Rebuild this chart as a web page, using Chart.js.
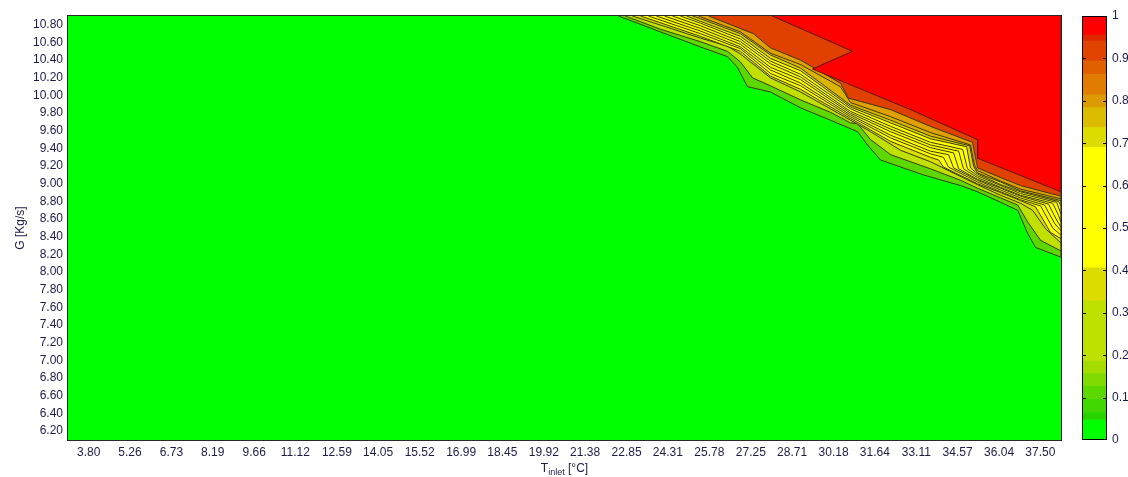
<!DOCTYPE html>
<html>
<head>
<meta charset="utf-8">
<script src="https://cdn.jsdelivr.net/npm/chart.js@4.4.1/dist/chart.umd.min.js"></script>
<style>
  html, body { margin: 0; padding: 0; background: #ffffff; }
  #wrap { position: relative; width: 1128px; height: 477px; }
  #mainCanvas { position: absolute; left: 0; top: 0; }
  #barCanvas { position: absolute; left: 1070px; top: 0; }
</style>
</head>
<body>
<div id="wrap">
  <canvas id="mainCanvas" width="1128" height="477"></canvas>
  <canvas id="barCanvas" width="58" height="477"></canvas>
</div>
<script>
// Axis tick labels
const xTickLabels = ['3.80', '5.26', '6.73', '8.19', '9.66', '11.12', '12.59', '14.05', '15.52', '16.99', '18.45', '19.92',
                     '21.38', '22.85', '24.31', '25.78', '27.25', '28.71', '30.18', '31.64', '33.11', '34.57', '36.04', '37.50'];
const yTickLabels = ['6.20', '6.40', '6.60', '6.80', '7.00', '7.20', '7.40', '7.60', '7.80', '8.00', '8.20', '8.40',
                     '8.60', '8.80', '9.00', '9.20', '9.40', '9.60', '9.80', '10.00', '10.20', '10.40', '10.60', '10.80'];
const X_MIN = 3.067, X_MAX = 38.233;
const Y_MIN = 6.10, Y_MAX = 10.90;

// Contour lines [T, G]; region above/right of each line is >= level
const lvl005 = [[22.56,10.90],[24.05,10.72],[25.46,10.55],[26.42,10.44],[26.77,10.32],[27.13,10.10],[27.94,10.04],[29.01,9.86],[30.07,9.72],[31.03,9.59],[31.38,9.44],[31.84,9.27],[33.37,9.10],[34.68,8.98],[35.28,8.91],[36.10,8.79],[36.70,8.70],[37.05,8.44],[37.33,8.28],[38.23,8.17]];
const lvl015 = [[22.80,10.90],[24.05,10.75],[25.46,10.61],[26.42,10.50],[26.88,10.38],[27.31,10.20],[27.94,10.11],[29.01,9.95],[30.07,9.81],[30.78,9.69],[31.03,9.68],[31.49,9.50],[32.20,9.33],[33.61,9.17],[34.68,9.04],[35.28,8.95],[36.10,8.84],[36.70,8.76],[37.05,8.57],[37.51,8.36],[38.23,8.24]];
const lvl030 = [[23.05,10.90],[24.22,10.78],[25.46,10.65],[26.42,10.56],[26.88,10.47],[27.59,10.29],[27.94,10.20],[29.01,10.04],[30.78,9.72],[31.49,9.59],[32.55,9.38],[33.61,9.25],[34.57,9.10],[35.28,8.99],[36.10,8.87],[36.80,8.78],[37.23,8.70],[37.69,8.49],[38.23,8.33]];
const lvl040 = [[23.34,10.90],[25.46,10.67],[26.88,10.50],[27.94,10.22],[29.01,10.07],[30.78,9.74],[32.20,9.48],[33.61,9.30],[33.90,9.27],[34.07,9.19],[35.28,9.00],[36.10,8.90],[36.80,8.81],[37.33,8.74],[37.86,8.45],[38.23,8.38]];
const lvl045 = [[23.62,10.90],[25.46,10.70],[26.88,10.53],[27.94,10.25],[29.01,10.11],[30.78,9.76],[32.20,9.52],[33.61,9.34],[34.07,9.30],[34.25,9.19],[35.28,9.02],[36.10,8.91],[36.80,8.82],[37.51,8.75],[37.94,8.50],[38.23,8.42]];
const lvl050 = [[23.90,10.90],[25.46,10.73],[26.88,10.55],[27.94,10.29],[29.01,10.14],[30.78,9.78],[32.20,9.55],[33.61,9.37],[34.25,9.33],[34.43,9.18],[35.28,9.04],[36.10,8.93],[36.80,8.84],[37.65,8.76],[38.01,8.55],[38.23,8.47]];
const lvl055 = [[24.19,10.90],[25.46,10.76],[26.88,10.58],[27.94,10.32],[29.01,10.18],[30.78,9.80],[32.20,9.59],[33.61,9.41],[34.43,9.35],[34.61,9.17],[35.28,9.05],[36.10,8.95],[36.80,8.86],[37.79,8.77],[38.08,8.59],[38.23,8.51]];
const lvl060 = [[24.47,10.90],[25.46,10.79],[26.88,10.61],[27.94,10.36],[29.01,10.21],[30.78,9.82],[32.20,9.62],[33.61,9.44],[34.61,9.37],[34.78,9.17],[35.28,9.07],[36.10,8.96],[36.80,8.87],[37.94,8.78],[38.15,8.64],[38.23,8.57]];
const lvl065 = [[24.75,10.90],[25.46,10.82],[26.88,10.64],[27.94,10.39],[29.01,10.24],[30.78,9.85],[32.20,9.65],[33.61,9.47],[34.75,9.39],[34.92,9.17],[35.28,9.09],[36.10,8.98],[36.80,8.89],[38.08,8.79],[38.23,8.66]];
const lvl070 = [[24.97,10.90],[25.46,10.84],[26.88,10.67],[27.94,10.42],[29.01,10.28],[30.78,9.87],[32.20,9.69],[33.61,9.51],[34.89,9.42],[35.03,9.18],[35.28,9.11],[36.10,8.99],[36.80,8.91],[38.15,8.80],[38.23,8.75]];
const lvl075 = [[25.18,10.90],[25.46,10.87],[26.88,10.70],[27.94,10.46],[29.01,10.31],[30.78,9.89],[32.20,9.72],[33.61,9.54],[35.00,9.43],[35.14,9.20],[35.28,9.12],[36.10,9.02],[36.80,8.92],[38.23,8.81]];
const lvl080 = [[25.39,10.90],[26.88,10.72],[27.94,10.48],[29.01,10.35],[30.42,10.10],[30.78,9.92],[32.20,9.76],[33.61,9.58],[35.03,9.44],[35.17,9.21],[35.28,9.15],[36.10,9.03],[36.80,8.94],[38.23,8.83]];
const lvl090 = [[25.75,10.90],[27.34,10.70],[27.94,10.54],[29.01,10.40],[30.42,10.14],[30.71,9.97],[32.20,9.84],[33.61,9.65],[35.10,9.47],[35.24,9.24],[35.28,9.18],[36.10,9.07],[36.80,8.98],[38.23,8.86]];
const lvl095 = [[28.01,10.90],[30.85,10.50],[29.43,10.30],[32.91,9.84],[35.28,9.50],[35.28,9.29],[38.23,8.91]];

const contourLines = [lvl005, lvl015, lvl030, lvl040, lvl045, lvl050, lvl055, lvl060, lvl065, lvl070, lvl075, lvl080, lvl090, lvl095];
const contourFills = ['#5cd800', '#c0e000', '#dce000', '#ffff00', '#ffff00', '#ffff00', '#ffff00', '#ffff00', '#ffff00',
                      '#e0d800', '#dcb400', '#e0a000', '#e04000', '#ff0000'];
const baseColor = '#00ff00';

// Colour bar bands
const cbLevels = [0, 0.047, 0.065, 0.096, 0.127, 0.157, 0.186, 0.328, 0.406, 0.690, 0.737, 0.784, 0.814, 0.862, 0.894, 0.941, 0.955, 1];
const cbColors = ['#00ff00', '#28d400', '#40d800', '#5cd800', '#80dc00', '#a4dc00', '#c0e000', '#dcdc00', '#ffff00',
                  '#dcdc00', '#dcbc00', '#dc9c00', '#e07c00', '#e06000', '#e04400', '#e02800', '#ff0000'];
const cbTickVals = [0, 0.1, 0.2, 0.3, 0.4, 0.5, 0.6, 0.7, 0.8, 0.9, 1];
const cbTickLabels = ['0', '0.1', '0.2', '0.3', '0.4', '0.5', '0.6', '0.7', '0.8', '0.9', '1'];

const textColor = '#1c1c48';
const fontFamily = '"Liberation Sans", Arial, sans-serif';

// green background of the plot area + frame
const plotArea = {
  id: 'plotArea',
  beforeDatasetsDraw(chart) {
    const {ctx, chartArea: a} = chart;
    ctx.save();
    ctx.fillStyle = baseColor;
    ctx.fillRect(a.left, a.top, a.right - a.left, a.bottom - a.top);
    ctx.restore();
  },
  afterDatasetsDraw(chart) {
    const {ctx, chartArea: a} = chart;
    ctx.save();
    ctx.strokeStyle = '#2a2a2a';
    ctx.lineWidth = 1;
    ctx.strokeRect(a.left - 0.5, a.top - 0.5, a.right - a.left + 1, a.bottom - a.top + 1);
    ctx.restore();
  }
};

// x title with subscript
const xTitle = {
  id: 'xTitle',
  afterDraw(chart) {
    const {ctx, chartArea: a} = chart;
    const big = '12px ' + fontFamily;
    const small = '9px ' + fontFamily;
    const y = a.bottom + 32;
    ctx.save();
    ctx.fillStyle = textColor;
    ctx.textAlign = 'left';
    ctx.textBaseline = 'alphabetic';
    ctx.font = big;
    const wT = ctx.measureText('T').width;
    const wU = ctx.measureText(' [°C]').width;
    ctx.font = small;
    const wS = ctx.measureText('inlet').width;
    let x = (a.left + a.right) / 2 - (wT + wS + wU) / 2;
    ctx.font = big;
    ctx.fillText('T', x, y);
    x += wT;
    ctx.font = small;
    ctx.fillText('inlet', x, y + 3);
    x += wS;
    ctx.font = big;
    ctx.fillText(' [°C]', x, y);
    ctx.restore();
  }
};

function buildContourDatasets() {
  return contourLines.map((line, i) => ({
    data: line.map(p => ({x: p[0], y: p[1]})).concat([{x: X_MAX, y: Y_MAX}]),
    showLine: true,
    fill: 'shape',
    backgroundColor: contourFills[i],
    borderColor: i === contourLines.length - 1 ? '#5a1800' : '#3a3a14',
    borderWidth: 1,
    pointRadius: 0,
    tension: 0,
    order: -i
  }));
}

new Chart(document.getElementById('mainCanvas').getContext('2d'), {
  type: 'scatter',
  data: { datasets: buildContourDatasets() },
  options: {
    responsive: false,
    animation: false,
    layout: { padding: { left: 0, right: 67, top: 16, bottom: 0 } },
    plugins: { legend: { display: false }, tooltip: { enabled: false } },
    scales: {
      x: {
        type: 'linear',
        min: X_MIN,
        max: X_MAX,
        afterBuildTicks: scale => { scale.ticks = xTickLabels.map(l => ({value: parseFloat(l)})); },
        afterFit: scale => { scale.height = 37; },
        ticks: {
          autoSkip: false, maxRotation: 0, minRotation: 0, padding: 5,
          color: textColor, font: { family: fontFamily, size: 12 },
          callback: (v, i) => xTickLabels[i]
        },
        grid: { display: false, drawTicks: false },
        border: { display: false }
      },
      y: {
        type: 'linear',
        min: Y_MIN,
        max: Y_MAX,
        afterBuildTicks: scale => { scale.ticks = yTickLabels.map(l => ({value: parseFloat(l)})); },
        afterFit: scale => { scale.width = 68; },
        ticks: {
          autoSkip: false, padding: 5,
          color: textColor, font: { family: fontFamily, size: 12 },
          callback: (v, i) => yTickLabels[i]
        },
        title: {
          display: true, text: 'G [Kg/s]', color: textColor,
          font: { family: fontFamily, size: 12 }, padding: { top: 13, bottom: 0 }
        },
        grid: { display: false, drawTicks: false },
        border: { display: false }
      }
    }
  },
  plugins: [plotArea, xTitle]
});

// colour bar frame and inner tick marks
const barFrame = {
  id: 'barFrame',
  afterDatasetsDraw(chart) {
    const {ctx, chartArea: a} = chart;
    const ys = chart.scales.y;
    ctx.save();
    ctx.strokeStyle = '#000000';
    ctx.lineWidth = 1;
    ctx.beginPath();
    cbTickVals.slice(1, -1).forEach(v => {
      const y = Math.round(ys.getPixelForValue(v)) + 0.5;
      ctx.moveTo(a.left, y); ctx.lineTo(a.left + 4, y);
      ctx.moveTo(a.right - 4, y); ctx.lineTo(a.right, y);
    });
    ctx.stroke();
    ctx.strokeRect(a.left + 0.5, a.top + 0.5, a.right - a.left - 1, a.bottom - a.top - 1);
    ctx.restore();
  }
};

new Chart(document.getElementById('barCanvas').getContext('2d'), {
  type: 'bar',
  data: {
    labels: [''],
    datasets: cbColors.map((c, i) => ({
      data: [[cbLevels[i], cbLevels[i + 1]]],
      backgroundColor: c,
      borderWidth: 0,
      barPercentage: 1,
      categoryPercentage: 1,
      grouped: false
    }))
  },
  options: {
    responsive: false,
    animation: false,
    layout: { padding: { left: 12, right: 0, top: 16, bottom: 37 } },
    plugins: { legend: { display: false }, tooltip: { enabled: false } },
    scales: {
      x: { display: false },
      y: {
        position: 'right',
        min: 0,
        max: 1,
        afterBuildTicks: scale => { scale.ticks = cbTickVals.map(v => ({value: v})); },
        afterFit: scale => { scale.width = 21; },
        ticks: {
          autoSkip: false, padding: 5,
          color: textColor, font: { family: fontFamily, size: 12 },
          callback: (v, i) => cbTickLabels[i]
        },
        grid: { display: false, drawTicks: false },
        border: { display: false }
      }
    }
  },
  plugins: [barFrame]
});
</script>
</body>
</html>
